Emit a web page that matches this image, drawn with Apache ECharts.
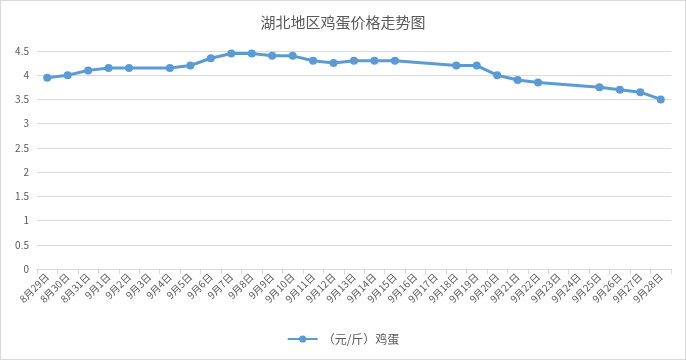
<!DOCTYPE html>
<html><head><meta charset="utf-8">
<script src="https://cdn.jsdelivr.net/npm/echarts@6/dist/echarts.min.js"></script>
<style>html,body{margin:0;padding:0;background:#fff}#c{width:684px;height:358px;border:1px solid #d9d9d9}</style>
</head><body><div id="c"></div>
<script>
var categories = ['8月29日','8月30日','8月31日','9月1日','9月2日','9月3日','9月4日','9月5日','9月6日','9月7日','9月8日','9月9日','9月10日','9月11日','9月12日','9月13日','9月14日','9月15日','9月16日','9月17日','9月18日','9月19日','9月20日','9月21日','9月22日','9月23日','9月24日','9月25日','9月26日','9月27日','9月28日'];
var eggPrice = [3.95,4.0,4.1,4.15,4.15,null,4.15,4.2,4.35,4.45,4.45,4.4,4.4,4.3,4.25,4.3,4.3,4.3,null,null,4.2,4.2,4.0,3.9,3.85,null,null,3.75,3.7,3.65,3.5];
var seriesName = '（元/斤）鸡蛋';
var chart = echarts.init(document.getElementById('c'));
var font = '"Microsoft YaHei","Noto Sans CJK SC",sans-serif';
chart.setOption({
  animation:false,
  title:{text:'湖北地区鸡蛋价格走势图',left:'center',top:9,textStyle:{fontSize:15,fontWeight:'normal',color:'#595959',fontFamily:font}},
  legend:{bottom:9,left:'center',itemWidth:30,itemHeight:9,textStyle:{color:'#595959',fontSize:12,fontFamily:font},data:[seriesName]},
  grid:{left:36,right:14,top:50,bottom:90},
  xAxis:{type:'category',data:categories,boundaryGap:true,
    axisLine:{lineStyle:{color:'#d9d9d9'}},
    axisTick:{show:true,length:5,lineStyle:{color:'#d9d9d9'}},
    axisLabel:{rotate:45,interval:0,fontSize:10,color:'#595959',fontFamily:font,margin:6}},
  yAxis:{type:'value',min:0,max:4.5,interval:0.5,
    axisLine:{show:false},axisTick:{show:false},
    splitLine:{lineStyle:{color:'#d9d9d9'}},
    axisLabel:{fontSize:10,color:'#595959',fontFamily:font,margin:8}},
  series:[{name:seriesName,type:'line',data:eggPrice,connectNulls:true,
    symbol:'circle',symbolSize:8,
    lineStyle:{color:'#5b9bd5',width:3},
    itemStyle:{color:'#5b9bd5'}}]
});
</script></body></html>
